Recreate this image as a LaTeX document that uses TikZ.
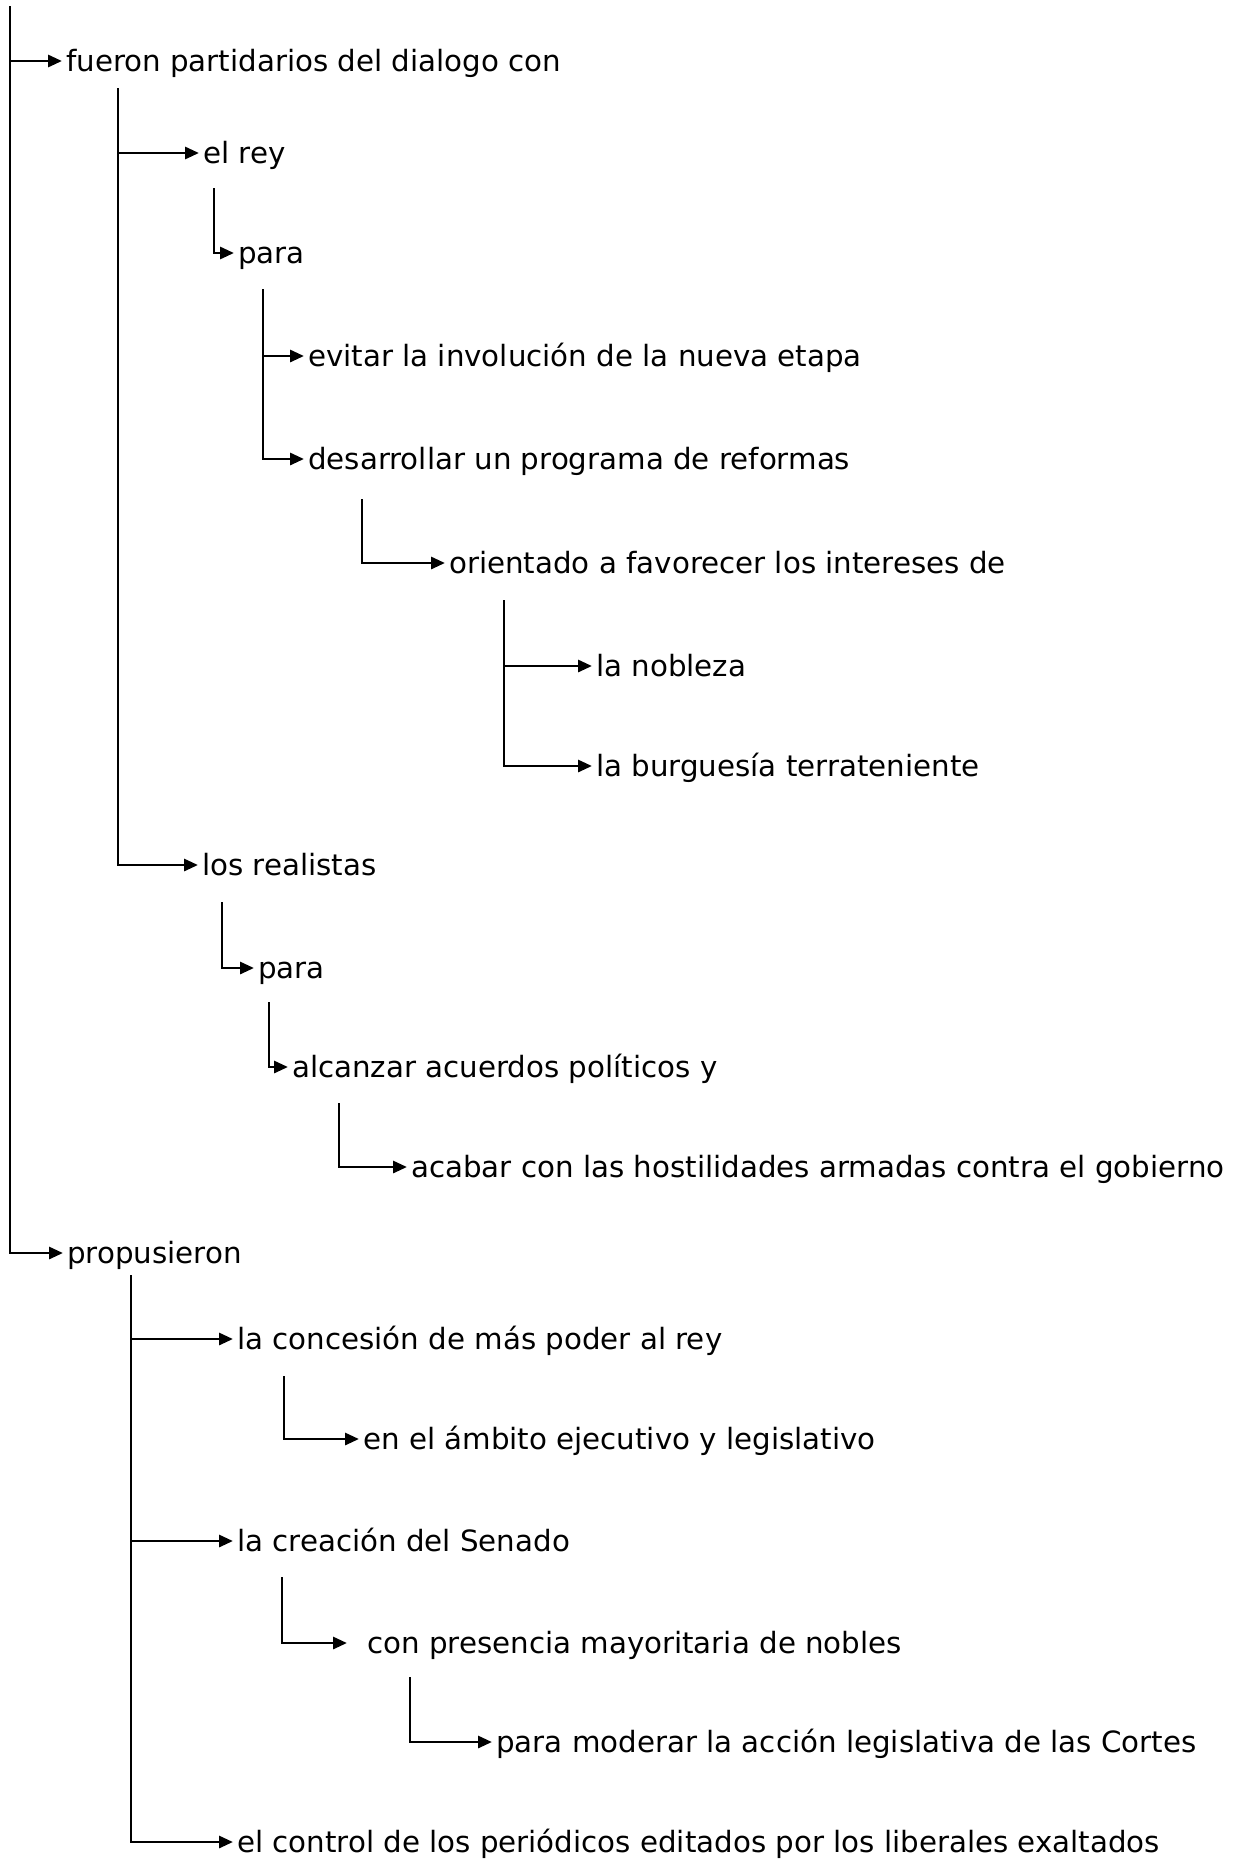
\documentclass[tikz,border=0pt]{standalone}
\usepackage{fontspec}
\usetikzlibrary{arrows.meta}
\newfontfamily\lblfont{DejaVu Sans}
\tikzset{
  lbl/.style={anchor=west, inner sep=0pt, text height=24pt, text depth=4pt,
    font={\lblfont\fontsize{29.3pt}{35pt}\selectfont}},
  conn/.style={line width=2.9pt, -{Triangle[length=14pt,width=12pt]}, shorten >=4pt},
}
\begin{document}
\begin{tikzpicture}[x=1pt,y=-1pt]
\fill[white] (0,0) rectangle (1237,1861);
\useasboundingbox (0,0) rectangle (1237,1861);
% text nodes
\node[lbl] (fueron) at (66,61) {fueron partidarios del dialogo con};
\node[lbl] (elrey) at (203,153) {el rey};
\node[lbl] (para1) at (238,253) {para};
\node[lbl] (evitar) at (308,356) {evitar la involución de la nueva etapa};
\node[lbl] (desarrollar) at (308,459) {desarrollar un programa de reformas};
\node[lbl] (orientado) at (449,563) {orientado a favorecer los intereses de};
\node[lbl] (nobleza) at (596,666) {la nobleza};
\node[lbl] (burguesia) at (596,766) {la burguesía terrateniente};
\node[lbl] (realistas) at (202,865) {los realistas};
\node[lbl] (para2) at (258,968) {para};
\node[lbl] (alcanzar) at (292,1067) {alcanzar acuerdos políticos y};
\node[lbl] (acabar) at (411,1167) {acabar con las hostilidades armadas contra el gobierno};
\node[lbl] (propusieron) at (67,1253) {propusieron};
\node[lbl] (concesion) at (237,1339) {la concesión de más poder al rey};
\node[lbl] (ambito) at (363,1439) {en el ámbito ejecutivo y legislativo};
\node[lbl] (creacion) at (237,1541) {la creación del Senado};
\node[lbl] (presencia) at (367,1643) {con presencia mayoritaria de nobles};
\node[lbl] (moderar) at (496,1742) {para moderar la acción legislativa de las Cortes};
\node[lbl] (control) at (237,1842) {el control de los periódicos editados por los liberales exaltados};
% branch tops
\coordinate (t0) at (10,6);
\coordinate (t1) at (118,88);
\coordinate (t2) at (214,188);
\coordinate (t3) at (263,289);
\coordinate (t4) at (362,499);
\coordinate (t5) at (504,600);
\coordinate (t6) at (222,902);
\coordinate (t7) at (269,1002);
\coordinate (t8) at (339,1103);
\coordinate (t9) at (131,1275);
\coordinate (t10) at (284,1376);
\coordinate (t11) at (282,1577);
\coordinate (t12) at (410,1677);
% connectors
\draw[conn] (t0) |- (fueron.west);
\draw[conn] (t0) |- (propusieron.west);
\draw[conn] (t1) |- (elrey.west);
\draw[conn] (t1) |- (realistas.west);
\draw[conn] (t2) |- (para1.west);
\draw[conn] (t3) |- (evitar.west);
\draw[conn] (t3) |- (desarrollar.west);
\draw[conn] (t4) |- (orientado.west);
\draw[conn] (t5) |- (nobleza.west);
\draw[conn] (t5) |- (burguesia.west);
\draw[conn] (t6) |- (para2.west);
\draw[conn] (t7) |- (alcanzar.west);
\draw[conn] (t8) |- (acabar.west);
\draw[conn] (t9) |- (concesion.west);
\draw[conn] (t9) |- (creacion.west);
\draw[conn] (t9) |- (control.west);
\draw[conn] (t10) |- (ambito.west);
\draw[conn, shorten >=20pt] (t11) |- (presencia.west);
\draw[conn] (t12) |- (moderar.west);
\end{tikzpicture}
\end{document}
